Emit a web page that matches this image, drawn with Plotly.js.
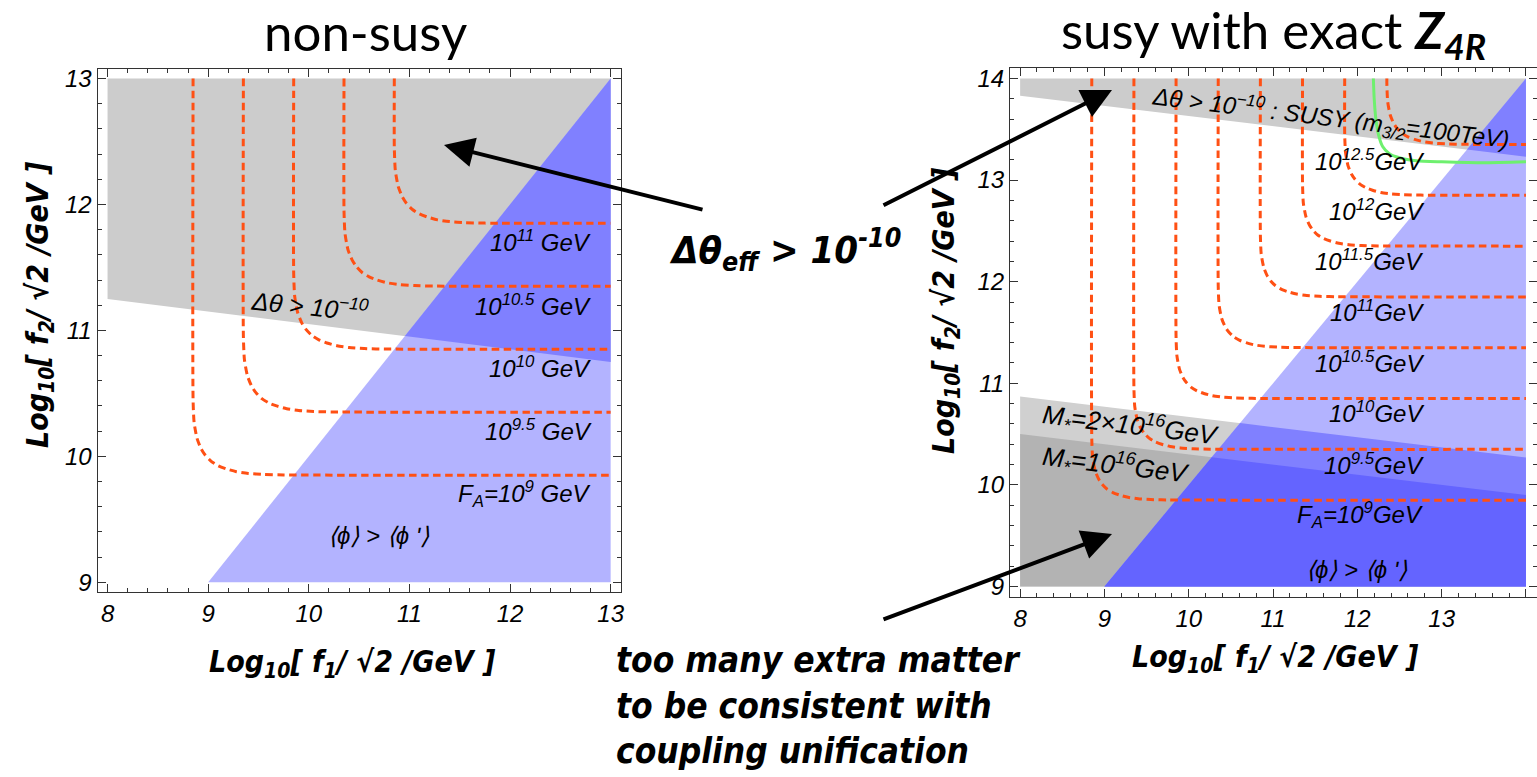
<!DOCTYPE html>
<html><head><meta charset="utf-8">
<script src="https://cdn.plot.ly/plotly-3.0.1.min.js"></script>
<style>html,body{margin:0;padding:0;background:#fff;}#chart{width:1537px;height:777px;}</style>
</head><body><div id="chart"></div>
<script>
// ---------- data ----------
// Left panel (non-susy) shaded regions
const leftGrayX = [8, 13, 13, 8];
const leftGrayY = [13, 13, 10.75, 11.25];
const leftTriX = [9, 13, 13];
const leftTriY = [9, 13, 9];
const leftOverlapX = [10.955, 13, 13];
const leftOverlapY = [10.955, 13, 10.75];

// Left panel F_A contours (10^9 ... 10^11 GeV)
const leftFA9X = [8.85, 8.85, 8.86, 8.89, 8.93, 8.97, 9.03, 9.10, 9.18, 9.28, 9.40, 9.55, 9.75, 13];
const leftFA9Y = [13, 10.45, 10.27, 10.14, 10.06, 10.01, 9.96, 9.925, 9.90, 9.878, 9.864, 9.856, 9.852, 9.85];
const leftFA95X = [9.35, 9.35, 9.36, 9.39, 9.43, 9.47, 9.53, 9.60, 9.68, 9.78, 9.90, 10.05, 10.25, 13];
const leftFA95Y = [13, 10.95, 10.77, 10.64, 10.56, 10.51, 10.46, 10.425, 10.40, 10.378, 10.364, 10.356, 10.352, 10.35];
const leftFA10X = [9.85, 9.85, 9.86, 9.89, 9.93, 9.97, 10.03, 10.10, 10.18, 10.28, 10.40, 10.55, 10.75, 13];
const leftFA10Y = [13, 11.45, 11.27, 11.14, 11.06, 11.01, 10.96, 10.925, 10.90, 10.878, 10.864, 10.856, 10.852, 10.85];
const leftFA105X = [10.35, 10.35, 10.36, 10.39, 10.43, 10.47, 10.53, 10.60, 10.68, 10.78, 10.90, 11.05, 11.25, 13];
const leftFA105Y = [13, 11.95, 11.77, 11.64, 11.56, 11.51, 11.46, 11.425, 11.40, 11.378, 11.364, 11.356, 11.352, 11.35];
const leftFA11X = [10.85, 10.85, 10.86, 10.89, 10.93, 10.97, 11.03, 11.10, 11.18, 11.28, 11.40, 11.55, 11.75, 13];
const leftFA11Y = [13, 12.45, 12.27, 12.14, 12.06, 12.01, 11.96, 11.925, 11.90, 11.878, 11.864, 11.856, 11.852, 11.85];

// Right panel (susy) shaded regions
const rightTopGrayX = [8, 14, 14, 8];
const rightTopGrayY = [14, 14, 13.23, 13.83];
const rightMstar2X = [8, 14, 14, 8];
const rightMstar2Y = [10.87, 10.27, 9, 9];
const rightMstar1X = [8, 14, 14, 8];
const rightMstar1Y = [10.5, 9.9, 9, 9];
const rightTriX = [9, 14, 14];
const rightTriY = [9, 14, 9];
const rightMid2X = [10.609, 14, 14, 9];
const rightMid2Y = [10.609, 10.27, 9, 9];
const rightMid1X = [10.273, 14, 14, 9];
const rightMid1Y = [10.273, 9.9, 9, 9];
const rightTopBlueX = [13.3, 14, 14];
const rightTopBlueY = [13.3, 14, 13.23];

// Right panel F_A contours (10^9 ... 10^12.5 GeV)
const rightFA9X = [8.85, 8.85, 8.86, 8.89, 8.93, 8.97, 9.03, 9.10, 9.18, 9.28, 9.40, 9.55, 9.75, 14];
const rightFA9Y = [14, 10.45, 10.27, 10.14, 10.06, 10.01, 9.96, 9.925, 9.90, 9.878, 9.864, 9.856, 9.852, 9.85];
const rightFA95X = [9.35, 9.35, 9.36, 9.39, 9.43, 9.47, 9.53, 9.60, 9.68, 9.78, 9.90, 10.05, 10.25, 14];
const rightFA95Y = [14, 10.95, 10.77, 10.64, 10.56, 10.51, 10.46, 10.425, 10.40, 10.378, 10.364, 10.356, 10.352, 10.35];
const rightFA10X = [9.85, 9.85, 9.86, 9.89, 9.93, 9.97, 10.03, 10.10, 10.18, 10.28, 10.40, 10.55, 10.75, 14];
const rightFA10Y = [14, 11.45, 11.27, 11.14, 11.06, 11.01, 10.96, 10.925, 10.90, 10.878, 10.864, 10.856, 10.852, 10.85];
const rightFA105X = [10.35, 10.35, 10.36, 10.39, 10.43, 10.47, 10.53, 10.60, 10.68, 10.78, 10.90, 11.05, 11.25, 14];
const rightFA105Y = [14, 11.95, 11.77, 11.64, 11.56, 11.51, 11.46, 11.425, 11.40, 11.378, 11.364, 11.356, 11.352, 11.35];
const rightFA11X = [10.85, 10.85, 10.86, 10.89, 10.93, 10.97, 11.03, 11.10, 11.18, 11.28, 11.40, 11.55, 11.75, 14];
const rightFA11Y = [14, 12.45, 12.27, 12.14, 12.06, 12.01, 11.96, 11.925, 11.90, 11.878, 11.864, 11.856, 11.852, 11.85];
const rightFA115X = [11.35, 11.35, 11.36, 11.39, 11.43, 11.47, 11.53, 11.60, 11.68, 11.78, 11.90, 12.05, 12.25, 14];
const rightFA115Y = [14, 12.95, 12.77, 12.64, 12.56, 12.51, 12.46, 12.425, 12.40, 12.378, 12.364, 12.356, 12.352, 12.35];
const rightFA12X = [11.85, 11.85, 11.86, 11.89, 11.93, 11.97, 12.03, 12.10, 12.18, 12.28, 12.40, 12.55, 12.75, 14];
const rightFA12Y = [14, 13.45, 13.27, 13.14, 13.06, 13.01, 12.96, 12.925, 12.90, 12.878, 12.864, 12.856, 12.852, 12.85];
const rightFA125X = [12.35, 12.35, 12.36, 12.39, 12.43, 12.47, 12.53, 12.60, 12.68, 12.78, 12.90, 13.05, 13.25, 14];
const rightFA125Y = [14, 13.95, 13.77, 13.64, 13.56, 13.51, 13.46, 13.425, 13.40, 13.378, 13.364, 13.356, 13.352, 13.35];

// Green m_3/2 = 100 TeV curve
const greenX = [12.19, 12.2, 12.22, 12.25, 12.3, 12.38, 12.5, 12.7, 13.0, 13.5, 14];
const greenY = [14, 13.8, 13.6, 13.45, 13.33, 13.26, 13.22, 13.19, 13.18, 13.17, 13.18];

// Tick values
const leftXTicks = [8, 9, 10, 11, 12, 13];
const leftYTicks = [9, 10, 11, 12, 13];
const rightXTicks = [8, 9, 10, 11, 12, 13, 14];
const rightYTicks = [9, 10, 11, 12, 13, 14];

// Contour labels
const leftLabelText = ['10<sup>11</sup> GeV', '10<sup>10.5</sup> GeV', '10<sup>10</sup> GeV', '10<sup>9.5</sup> GeV', 'F<sub>A</sub>=10<sup>9</sup> GeV'];
const leftLabelX = [12.30, 12.23, 12.30, 12.28, 12.14];
const leftLabelY = [11.71, 11.20, 10.71, 10.21, 9.70];
const rightLabelText = ['10<sup>12.5</sup>GeV', '10<sup>12</sup>GeV', '10<sup>11.5</sup>GeV', '10<sup>11</sup>GeV', '10<sup>10.5</sup>GeV', '10<sup>10</sup>GeV', '10<sup>9.5</sup>GeV', 'F<sub>A</sub>=10<sup>9</sup>GeV'];
const rightLabelX = [12.14, 12.23, 12.14, 12.23, 12.14, 12.23, 12.20, 12.03];
const rightLabelY = [13.20, 12.71, 12.21, 11.71, 11.21, 10.72, 10.21, 9.70];

// ---------- styles ----------
const GRAY = '#cccccc', LBLUE = '#b3b3ff', MBLUE = '#8080ff', DBLUE = '#6464ff';
const GRAY2 = '#d0d0d0', GRAY3 = '#b3b3b3';
const ORANGE = '#ff5014';
const W = 1537, H = 777;

function poly(x, y, color, xa, ya) {
  return {x: x, y: y, type: 'scatter', mode: 'lines', fill: 'toself', fillcolor: color,
    line: {width: 0, color: color}, hoverinfo: 'skip', showlegend: false, xaxis: xa, yaxis: ya};
}
function dashed(x, y, xa, ya) {
  return {x: x, y: y, type: 'scatter', mode: 'lines',
    line: {color: ORANGE, width: 3, dash: '7.5px,4.5px', shape: 'spline', smoothing: 0.6},
    hoverinfo: 'skip', showlegend: false, xaxis: xa, yaxis: ya};
}

const traces = [
  poly(leftGrayX, leftGrayY, GRAY, 'x', 'y'),
  poly(leftTriX, leftTriY, LBLUE, 'x', 'y'),
  poly(leftOverlapX, leftOverlapY, MBLUE, 'x', 'y'),
  dashed(leftFA9X, leftFA9Y, 'x', 'y'),
  dashed(leftFA95X, leftFA95Y, 'x', 'y'),
  dashed(leftFA10X, leftFA10Y, 'x', 'y'),
  dashed(leftFA105X, leftFA105Y, 'x', 'y'),
  dashed(leftFA11X, leftFA11Y, 'x', 'y'),

  poly(rightTopGrayX, rightTopGrayY, GRAY, 'x2', 'y2'),
  poly(rightMstar2X, rightMstar2Y, GRAY2, 'x2', 'y2'),
  poly(rightMstar1X, rightMstar1Y, GRAY3, 'x2', 'y2'),
  poly(rightTriX, rightTriY, LBLUE, 'x2', 'y2'),
  poly(rightMid2X, rightMid2Y, MBLUE, 'x2', 'y2'),
  poly(rightMid1X, rightMid1Y, DBLUE, 'x2', 'y2'),
  poly(rightTopBlueX, rightTopBlueY, MBLUE, 'x2', 'y2'),
  dashed(rightFA9X, rightFA9Y, 'x2', 'y2'),
  dashed(rightFA95X, rightFA95Y, 'x2', 'y2'),
  dashed(rightFA10X, rightFA10Y, 'x2', 'y2'),
  dashed(rightFA105X, rightFA105Y, 'x2', 'y2'),
  dashed(rightFA11X, rightFA11Y, 'x2', 'y2'),
  dashed(rightFA115X, rightFA115Y, 'x2', 'y2'),
  dashed(rightFA12X, rightFA12Y, 'x2', 'y2'),
  dashed(rightFA125X, rightFA125Y, 'x2', 'y2'),
  {x: greenX, y: greenY, type: 'scatter', mode: 'lines', line: {color: '#6ef06e', width: 3, shape: 'spline', smoothing: 0.6},
    hoverinfo: 'skip', showlegend: false, xaxis: 'x2', yaxis: 'y2'}
];

const tickFont = {family: 'Liberation Sans, Arial, sans-serif', size: 24, color: '#000', style: 'italic'};
function axis(domain, range, tickvals, extra) {
  return Object.assign({
    domain: domain, range: range, tickmode: 'array', tickvals: tickvals,
    ticktext: tickvals.map(v => '<i>' + v + '</i>'),
    showgrid: false, zeroline: false, showline: true, linecolor: '#333', linewidth: 1, mirror: 'allticks',
    ticks: 'inside', ticklen: 8, tickwidth: 1, tickcolor: '#333', tickfont: tickFont,
    minor: {dtick: 0.2, tick0: 0, ticks: 'inside', ticklen: 4, tickcolor: '#333', showgrid: false},
    fixedrange: true
  }, extra || {});
}

const labelFont = {family: 'Liberation Sans, Arial, sans-serif', size: 24, color: '#000', style: 'italic'};
const bigLabelFont = Object.assign({}, labelFont, {size: 26});
const narrowBold = {family: 'Liberation Sans Narrow, Arial Narrow, DejaVu Sans Condensed, sans-serif', size: 30, color: '#000', weight: 'bold', style: 'italic'};
const titleFont = {family: 'Lato, Liberation Sans, sans-serif', size: 51, color: '#000'};

const annotations = [];
leftLabelText.forEach((t, i) => annotations.push({text: t, x: leftLabelX[i], y: leftLabelY[i], xref: 'x', yref: 'y', showarrow: false, font: labelFont}));
rightLabelText.forEach((t, i) => annotations.push({text: t, x: rightLabelX[i], y: rightLabelY[i], xref: 'x2', yref: 'y2', showarrow: false, font: labelFont}));

function paperText(text, px, py, font, extra) {
  return Object.assign({text: text, x: px / W, y: 1 - py / H, xref: 'paper', yref: 'paper', showarrow: false,
    xanchor: 'center', yanchor: 'middle', font: font}, extra || {});
}
function arrow(tipX, tipY, dx, dy) {
  return {text: '', x: tipX / W, y: 1 - tipY / H, xref: 'paper', yref: 'paper', showarrow: true,
    ax: dx, ay: dy, arrowhead: 2, arrowsize: 1.5, arrowwidth: 4, arrowcolor: '#000', standoff: 0};
}

annotations.push(
  {text: 'Δθ > 10<sup>−10</sup>', x: 10.01, y: 11.2, xref: 'x', yref: 'y', showarrow: false, textangle: 6, font: Object.assign({}, labelFont, {size: 25})},
  {text: '⟨ϕ⟩ > ⟨ϕ ʹ⟩', x: 10.7, y: 9.37, xref: 'x', yref: 'y', showarrow: false, font: labelFont},
  {text: '⟨ϕ⟩ > ⟨ϕ ʹ⟩', x: 11.99, y: 9.17, xref: 'x2', yref: 'y2', showarrow: false, font: labelFont},
  {text: 'M<sub>*</sub>=2×10<sup>16</sup>GeV', x: 9.31, y: 10.59, xref: 'x2', yref: 'y2', showarrow: false, textangle: 7, font: bigLabelFont},
  {text: 'M<sub>*</sub>=10<sup>16</sup>GeV', x: 9.14, y: 10.2, xref: 'x2', yref: 'y2', showarrow: false, textangle: 7, font: bigLabelFont},
  {text: 'Δθ > 10<sup>−10</sup> : SUSY (m<sub>3/2</sub>=100TeV)', x: 11.68, y: 13.61, xref: 'x2', yref: 'y2', showarrow: false, textangle: 7, font: labelFont},
  // titles
  paperText('non-susy', 365, 32, titleFont),
  paperText('susy with exact <b><i>Z</i></b><sub><b><i>4R</i></b></sub>', 1273, 34, titleFont),
  // axis titles
  paperText('Log<sub>10</sub>[ f<sub>1</sub>/ √2 /GeV ]', 352, 663, narrowBold),
  paperText('Log<sub>10</sub>[ f<sub>1</sub>/ √2 /GeV ]', 1275, 658, narrowBold),
  paperText('Log<sub>10</sub>[ f<sub>2</sub>/ √2 /GeV ]', 40, 305, narrowBold, {textangle: -90}),
  paperText('Log<sub>10</sub>[ f<sub>2</sub>/ √2 /GeV ]', 946, 311, narrowBold, {textangle: -90}),
  // central statements
  paperText('Δθ<sub>eff</sub> > 10<sup>-10</sup>', 785, 250, Object.assign({}, narrowBold, {size: 38})),
  paperText('too many extra matter<br>to be consistent with<br>coupling unification', 614, 705,
    Object.assign({}, narrowBold, {size: 35}), {xanchor: 'left', align: 'left'}),
  // arrows
  arrow(444, 145, 260, 65),
  arrow(1112, 90, -230, 116),
  arrow(1112, 534, -230, 86)
);

const layout = {
  width: W, height: H, margin: {l: 0, r: 0, t: 0, b: 0}, paper_bgcolor: '#fff', plot_bgcolor: '#fff',
  showlegend: false,
  xaxis: axis([97.5 / W, 620.7 / W], [7.9, 13.1], leftXTicks, {anchor: 'y'}),
  yaxis: axis([1 - 592.3 / H, 1 - 68.5 / H], [8.92, 13.08], leftYTicks, {anchor: 'x'}),
  xaxis2: axis([1010 / W, 1], [7.88, 14.131], rightXTicks, {anchor: 'y2'}),
  yaxis2: axis([1 - 596.7 / H, 1 - 68.3 / H], [8.9, 14.1], rightYTicks, {anchor: 'x2'}),
  annotations: annotations
};

Plotly.newPlot('chart', traces, layout, {displayModeBar: false, staticPlot: true});
</script>
</body></html>
